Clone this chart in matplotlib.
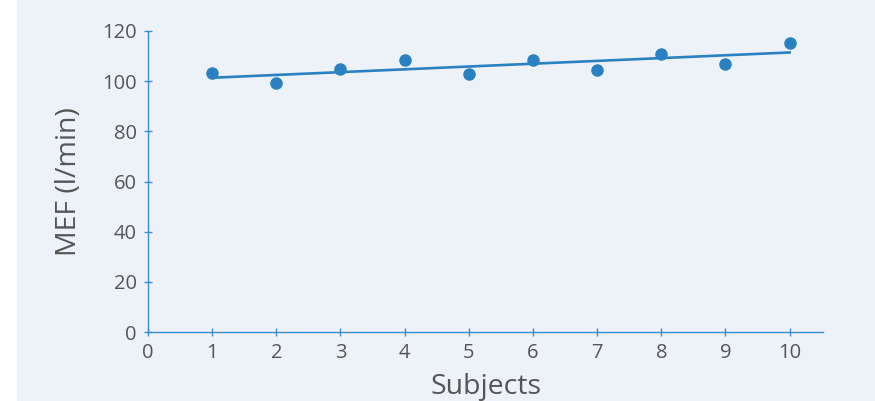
import numpy as np
import matplotlib
matplotlib.use("Agg")
import matplotlib.pyplot as plt
from matplotlib.patches import Rectangle

subjects = [1, 2, 3, 4, 5, 6, 7, 8, 9, 10]
mef = [103.2, 99.2, 104.8, 108.4, 102.8, 108.4, 104.4, 110.8, 106.8, 115.2]
xticks = [0, 1, 2, 3, 4, 5, 6, 7, 8, 9, 10]
yticks = [0, 20, 40, 60, 80, 100, 120]

blue = "#2a81c2"
axis_blue = "#3b8fd0"
text_grey = "#555555"
panel = "#edf2f9"

plt.rcParams["font.family"] = ["Open Sans", "DejaVu Sans"]

fig = plt.figure(figsize=(8.75, 4.01), dpi=100)
fig.patch.set_facecolor("white")
fig.patches.append(Rectangle((17 / 875, 0), 1, 1, transform=fig.transFigure,
                             facecolor=panel, edgecolor="none", zorder=-10))

ax = fig.add_axes([148 / 875, 1 - 332 / 401, (823 - 148) / 875, (332 - 31) / 401])
ax.set_facecolor("none")

ax.scatter(subjects, mef, s=64, color=blue, zorder=3, clip_on=False)

slope, intercept = np.polyfit(subjects, mef, 1)
xs = np.array([subjects[0], subjects[-1]])
ax.plot(xs, slope * xs + intercept, color=blue, lw=1.9, zorder=2)

ax.set_xlim(0, 10.52)
ax.set_ylim(0, 120)
ax.set_xticks(xticks)
ax.set_yticks(yticks)

for s in ["top", "right"]:
    ax.spines[s].set_visible(False)
for s in ["left", "bottom"]:
    ax.spines[s].set_color(axis_blue)
    ax.spines[s].set_linewidth(1.0)

ax.tick_params(direction="inout", length=6, width=1, color=axis_blue,
               labelcolor=text_grey, labelsize=14.5, pad=5)

ax.set_ylabel("MEF (l/min)", fontsize=20.5, color=text_grey, labelpad=14)
ax.set_xlabel("Subjects", fontsize=20.5, color=text_grey, labelpad=7)

fig.savefig("out.png", dpi=100)
